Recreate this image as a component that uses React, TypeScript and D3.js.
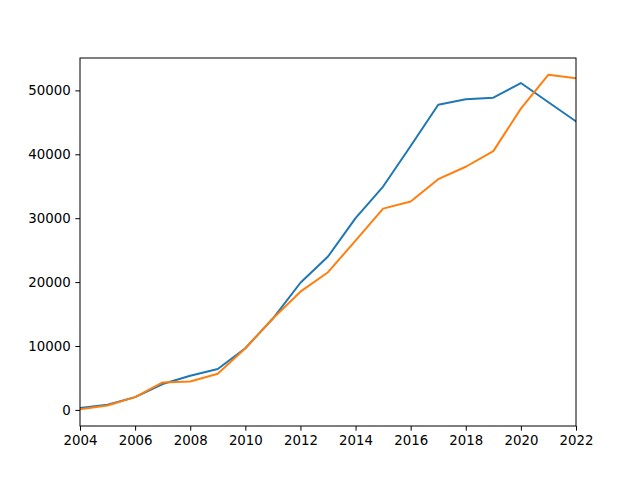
import React, { useEffect, useRef } from "react";
import * as d3 from "d3";

const years = [2004, 2005, 2006, 2007, 2008, 2009, 2010, 2011, 2012, 2013, 2014, 2015, 2016, 2017, 2018, 2019, 2020, 2021, 2022];
const blueValues = [300, 800, 2000, 4050, 5350, 6400, 9650, 14300, 19900, 24000, 30000, 34950, 41300, 47750, 48600, 48850, 51150, 48150, 45150];
const orangeValues = [100, 700, 2000, 4300, 4450, 5650, 9650, 14300, 18500, 21550, 26500, 31500, 32600, 36100, 38050, 40500, 47150, 52450, 51900];
const xTicks = [2004, 2006, 2008, 2010, 2012, 2014, 2016, 2018, 2020, 2022];
const yTicks = [0, 10000, 20000, 30000, 40000, 50000];

const series = [
  { name: "blue", values: blueValues, color: "#1f77b4" },
  { name: "orange", values: orangeValues, color: "#ff7f0e" },
];

const App: React.FC = () => {
  const svgRef = useRef<SVGSVGElement | null>(null);

  useEffect(() => {
    const width = 640;
    const height = 480;
    const margin = { left: 80, right: 64, top: 58, bottom: 54 };

    const svg = d3.select(svgRef.current);
    svg.selectAll("*").remove();
    svg.attr("width", width).attr("height", height);

    const all = [...blueValues, ...orangeValues];
    const lo = d3.min(all) as number;
    const hi = d3.max(all) as number;
    const pad = (hi - lo) * 0.05;

    const x = d3.scaleLinear().domain([2004, 2022]).range([margin.left, width - margin.right]);
    const y = d3.scaleLinear().domain([lo - pad, hi + pad]).range([height - margin.bottom, margin.top]);

    svg.append("rect").attr("width", width).attr("height", height).attr("fill", "white");

    const line = d3
      .line<number>()
      .x((_, i) => x(years[i]))
      .y((d) => y(d));

    // clip lines to the axes box
    svg.append("clipPath").attr("id", "plot-clip")
      .append("rect")
      .attr("x", margin.left)
      .attr("y", margin.top)
      .attr("width", width - margin.left - margin.right)
      .attr("height", height - margin.top - margin.bottom);

    const g = svg.append("g").attr("clip-path", "url(#plot-clip)");
    series.forEach((s) => {
      g.append("path")
        .datum(s.values)
        .attr("d", line)
        .attr("fill", "none")
        .attr("stroke", s.color)
        .attr("stroke-width", 2)
        .attr("stroke-linejoin", "round")
        .attr("stroke-linecap", "square");
    });

    const xAxis = d3.axisBottom(x).tickValues(xTicks).tickFormat(d3.format("d")).tickSizeInner(4.67).tickSizeOuter(0).tickPadding(4.67);
    const yAxis = d3.axisLeft(y).tickValues(yTicks).tickFormat(d3.format("d")).tickSizeInner(4.67).tickSizeOuter(0).tickPadding(4.67);

    const gx = svg.append("g").attr("transform", `translate(0,${height - margin.bottom})`).call(xAxis);
    const gy = svg.append("g").attr("transform", `translate(${margin.left},0)`).call(yAxis);

    [gx, gy].forEach((ax) => {
      ax.select(".domain").remove();
      ax.selectAll("line").attr("stroke", "black").attr("stroke-width", 1);
      ax.selectAll("text")
        .attr("fill", "black")
        .style("font-family", "DejaVu Sans")
        .style("font-size", "13.33px");
    });

    svg.append("rect")
      .attr("x", margin.left)
      .attr("y", margin.top)
      .attr("width", width - margin.left - margin.right)
      .attr("height", height - margin.top - margin.bottom)
      .attr("fill", "none")
      .attr("stroke", "black")
      .attr("stroke-width", 1);
  }, []);

  return <svg ref={svgRef} style={{ position: "absolute", left: 0, top: 0 }} />;
};

export default App;
